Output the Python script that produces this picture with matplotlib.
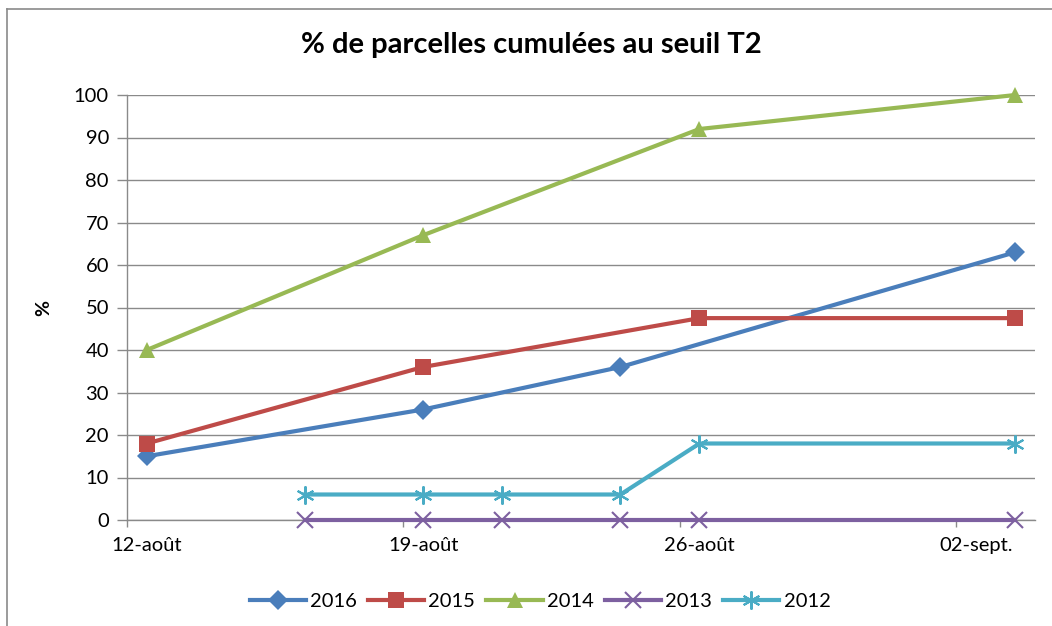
import datetime as dt
import matplotlib.pyplot as plt
from matplotlib.lines import Line2D

# ------------------------- Données -------------------------
dates_2016 = ["12/08", "19/08", "24/08", "03/09"]
vals_2016 = [15, 26, 36, 63]

dates_2015 = ["12/08", "19/08", "26/08", "03/09"]
vals_2015 = [18, 36, 47.5, 47.5]

dates_2014 = ["12/08", "19/08", "26/08", "03/09"]
vals_2014 = [40, 67, 92, 100]

dates_2013 = ["16/08", "19/08", "21/08", "24/08", "26/08", "03/09"]
vals_2013 = [0, 0, 0, 0, 0, 0]

dates_2012 = ["16/08", "19/08", "21/08", "24/08", "26/08", "03/09"]
vals_2012 = [6, 6, 6, 6, 18, 18]

tick_dates = ["12/08", "19/08", "26/08", "02/09"]
tick_labels = ["12-août", "19-août", "26-août", "02-sept."]

START = dt.date(2016, 8, 12)
END = dt.date(2016, 9, 4)


def day_num(s):
    d, m = map(int, s.split('/'))
    return (dt.date(2016, m, d) - START).days


def centre(dates):
    # Excel place les points au milieu du jour
    return [day_num(s) + 0.5 for s in dates]


plt.rcParams['font.family'] = ['Lato', 'DejaVu Sans']

fig = plt.figure(figsize=(10.52, 6.26), dpi=100)
ax = fig.add_axes([127 / 1052, 1 - 520 / 626, (1035 - 127) / 1052, (520 - 95) / 626])

grey = '#8a8a8a'
series = [
    ("2016", dates_2016, vals_2016, '#4a7ebb', 'D', 10),
    ("2015", dates_2015, vals_2015, '#be4b48', 's', 11),
    ("2014", dates_2014, vals_2014, '#98b954', '^', 12),
    ("2013", dates_2013, vals_2013, '#7d60a0', 'x', 12),
    ("2012", dates_2012, vals_2012, '#4aacc5', (6, 2, 0), 13),
]

for label, dates, vals, color, marker, ms in series:
    ax.plot(centre(dates), vals, color=color, lw=3.0, marker=marker, ms=ms,
            mew=1.5 if marker == 'x' or isinstance(marker, tuple) else 0,
            mec=color, mfc=color, label=label, zorder=3, clip_on=False)

ax.set_ylim(0, 100)
ax.set_yticks(range(0, 101, 10))
ax.set_xlim(0, (END - START).days)

# graduations aux débuts de semaine, étiquettes au milieu du jour
ax.set_xticks([day_num(s) for s in tick_dates])
ax.set_xticklabels([])
ax.set_xticks([day_num(s) + 0.5 for s in tick_dates], minor=True)
ax.set_xticklabels(tick_labels, minor=True)
ax.tick_params(axis='x', which='major', length=5, color=grey, width=1)
ax.tick_params(axis='x', which='minor', length=0, pad=12, labelsize=14.5)
ax.tick_params(axis='y', length=7, color=grey, width=1, pad=6, labelsize=14.5)

ax.grid(axis='y', color=grey, lw=1)
ax.set_axisbelow(True)
for side in ('top', 'right'):
    ax.spines[side].set_visible(False)
for side in ('left', 'bottom'):
    ax.spines[side].set_color(grey)
    ax.spines[side].set_linewidth(1)

ax.set_ylabel('%', fontsize=14, fontweight='bold')
ax.yaxis.set_label_coords((52 - 127) / 908, 0.5)
fig.suptitle('% de parcelles cumulées au seuil T2', x=531 / 1052, y=1 - 32 / 626,
             fontsize=21, fontweight='bold')

fig.legend(loc='center', bbox_to_anchor=(540 / 1052, 1 - 601 / 626), ncol=5,
           frameon=False, fontsize=14.5, handlelength=2.8, columnspacing=0.55,
           handletextpad=0.2)

# cadre du graphique
fig.add_artist(Line2D([7 / 1052, 7 / 1052], [0, 1 - 9 / 626], color=grey, lw=1.2,
                      transform=fig.transFigure))
fig.add_artist(Line2D([7 / 1052, 1], [1 - 9 / 626, 1 - 9 / 626], color=grey, lw=1.2,
                      transform=fig.transFigure))

fig.savefig('out.png', dpi=100)
